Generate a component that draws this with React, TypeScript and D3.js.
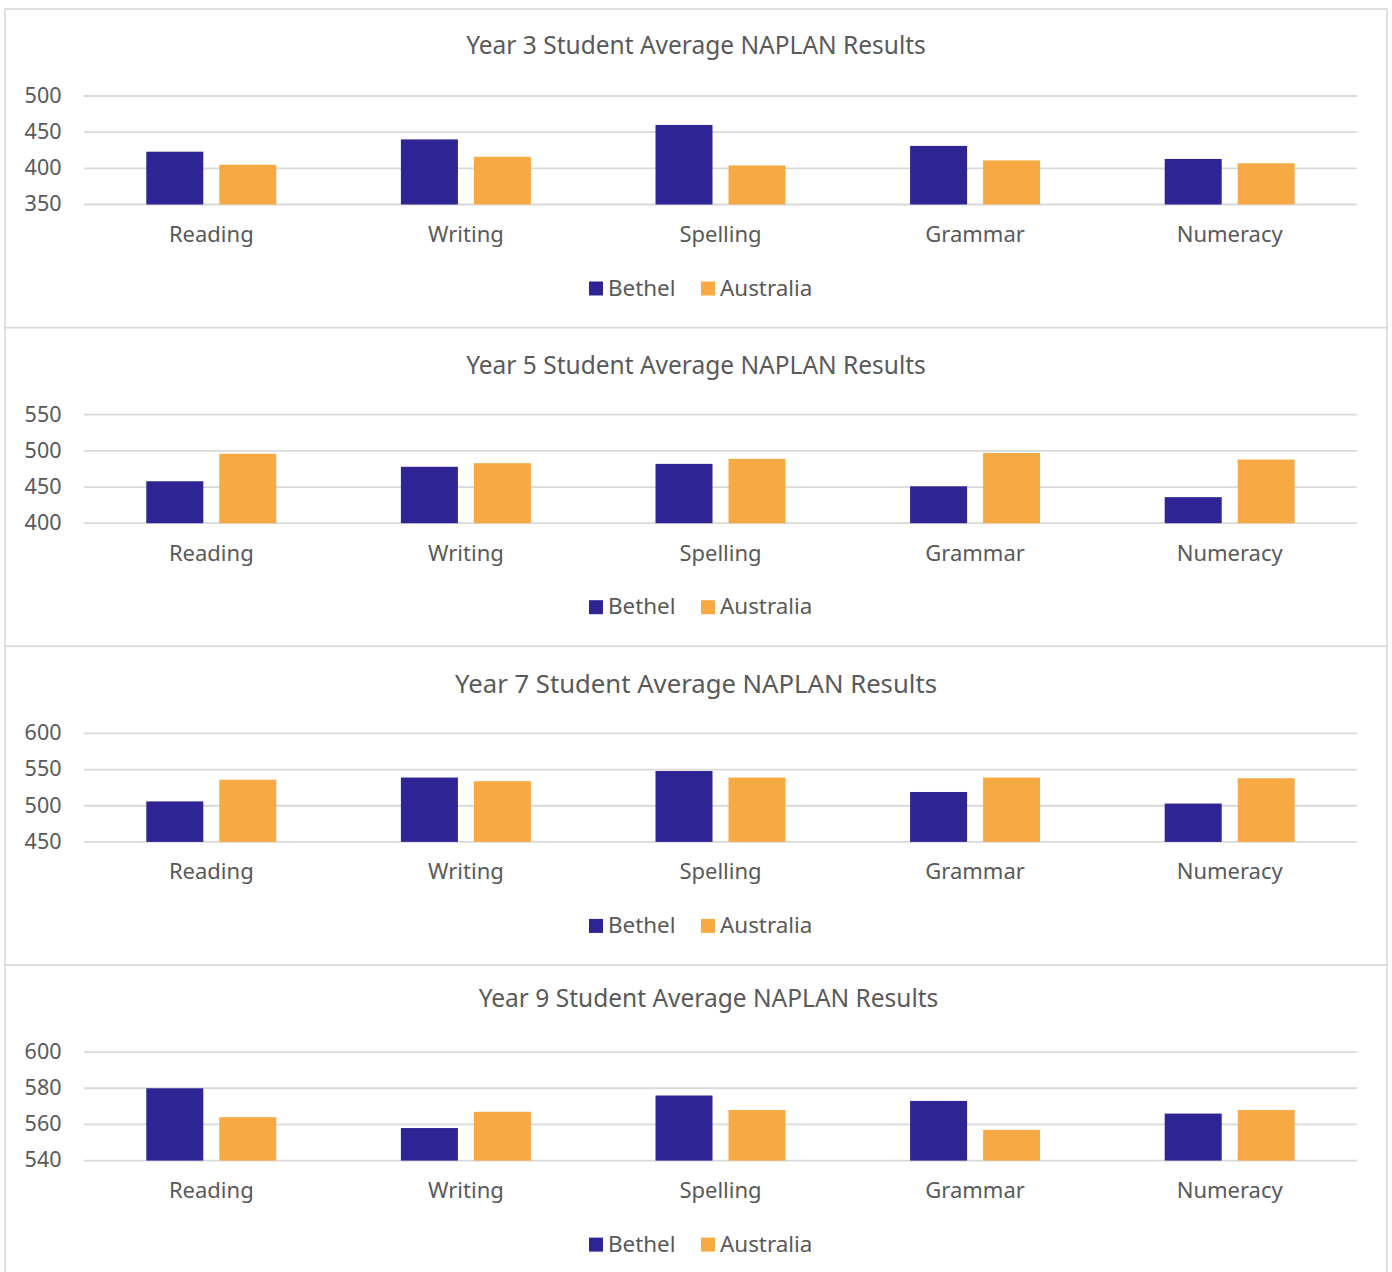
import React from "react";
import * as d3 from "d3";

const categories = ["Reading", "Writing", "Spelling", "Grammar", "Numeracy"];
const seriesNames = ["Bethel", "Australia"];
const seriesColors = ["#2E2494", "#F7AA44"];

const titles = [
  "Year 3 Student Average NAPLAN Results",
  "Year 5 Student Average NAPLAN Results",
  "Year 7 Student Average NAPLAN Results",
  "Year 9 Student Average NAPLAN Results",
];

const bethelY3 = [423, 440, 460, 431, 413];
const australiaY3 = [405, 416, 404, 411, 407];
const bethelY5 = [458, 478, 482, 451, 436];
const australiaY5 = [496, 483, 489, 497, 488];
const bethelY7 = [506, 539, 548, 519, 503];
const australiaY7 = [536, 534, 539, 539, 538];
const bethelY9 = [580, 558, 576, 573, 566];
const australiaY9 = [564, 567, 568, 557, 568];

const ticksY3 = [350, 400, 450, 500];
const ticksY5 = [400, 450, 500, 550];
const ticksY7 = [450, 500, 550, 600];
const ticksY9 = [540, 560, 580, 600];

const panelSeries = [
  [bethelY3, australiaY3],
  [bethelY5, australiaY5],
  [bethelY7, australiaY7],
  [bethelY9, australiaY9],
];
const panelTicks = [ticksY3, ticksY5, ticksY7, ticksY9];

// layout (not data)
const W = 1392;
const H = 1272;
const PANEL_X = 5;
const PANEL_W = 1382;
const PANEL_TOP0 = 9;
const PANEL_STEP = 318.7;
const PLOT_LEFT = 84;
const PLOT_RIGHT = 1357;
const PLOT_TOP_OFF = 87;
const PLOT_BOTTOM_OFF = 195.5;
const titleLayout = [
  { dy: 44.8, size: 24.5, cx: 696 },
  { dy: 46.0, size: 24.5, cx: 696 },
  { dy: 46.9, size: 25.7, cx: 696 },
  { dy: 42.0, size: 24.5, cx: 708.5 },
];
const FONT = "'Noto Sans', sans-serif";
const TEXT = "#595959";
const GRID = "#D9D9D9";

function Panel({ idx }: { idx: number }) {
  const top = PANEL_TOP0 + idx * PANEL_STEP;
  const ticks = panelTicks[idx];
  const data = panelSeries[idx];
  const y = d3
    .scaleLinear()
    .domain([ticks[0], ticks[ticks.length - 1]])
    .range([top + PLOT_BOTTOM_OFF, top + PLOT_TOP_OFF]);
  const x = d3.scaleBand<string>().domain(categories).range([PLOT_LEFT, PLOT_RIGHT]).padding(0);
  const inner = d3
    .scaleBand<string>()
    .domain(seriesNames)
    .range([-65, 65])
    .paddingInner(16 / 73)
    .paddingOuter(0);
  const tl = titleLayout[idx];
  const legendY = top + 286.5;
  return (
    <g>
      <rect
        x={PANEL_X}
        y={top}
        width={PANEL_W}
        height={PANEL_STEP}
        fill="#fff"
        stroke={GRID}
        strokeWidth={1.6}
      />
      <text
        x={tl.cx}
        y={top + tl.dy}
        textAnchor="middle"
        fontFamily={FONT}
        fontSize={tl.size}
        fill={TEXT}
      >
        {titles[idx]}
      </text>
      {ticks.map((t) => (
        <g key={t}>
          <line
            x1={PLOT_LEFT}
            x2={PLOT_RIGHT}
            y1={y(t)}
            y2={y(t)}
            stroke={GRID}
            strokeWidth={1.8}
          />
          <text
            x={61.5}
            y={y(t)}
            dy="0.32em"
            textAnchor="end"
            fontFamily={FONT}
            fontSize={21.5}
            fill={TEXT}
          >
            {t}
          </text>
        </g>
      ))}
      {categories.map((c, ci) => (
        <g key={c}>
          {seriesNames.map((s, si) => {
            const v = data[si][ci];
            const bx = (x(c) as number) + x.bandwidth() / 2 + (inner(s) as number);
            return (
              <rect
                key={s}
                x={bx}
                y={y(v)}
                width={inner.bandwidth()}
                height={y(ticks[0]) - y(v)}
                fill={seriesColors[si]}
              />
            );
          })}
          <text
            x={(x(c) as number) + x.bandwidth() / 2}
            y={top + 233}
            textAnchor="middle"
            fontFamily={FONT}
            fontSize={22}
            fill={TEXT}
          >
            {c}
          </text>
        </g>
      ))}
      {seriesNames.map((s, si) => {
        const lx = si === 0 ? 589 : 701;
        return (
          <g key={s}>
            <rect x={lx} y={legendY - 14} width={14} height={14} fill={seriesColors[si]} />
            <text
              x={lx + 19}
              y={legendY}
              fontFamily={FONT}
              fontSize={22.4}
              fill={TEXT}
            >
              {s}
            </text>
          </g>
        );
      })}
    </g>
  );
}

export default function App() {
  return (
    <svg
      width={W}
      height={H}
      viewBox={`0 0 ${W} ${H}`}
      style={{ position: "absolute", left: 0, top: 0, background: "#fff" }}
    >
      <rect x={0} y={0} width={W} height={H} fill="#fff" />
      {titles.map((_, i) => (
        <Panel key={i} idx={i} />
      ))}
    </svg>
  );
}
